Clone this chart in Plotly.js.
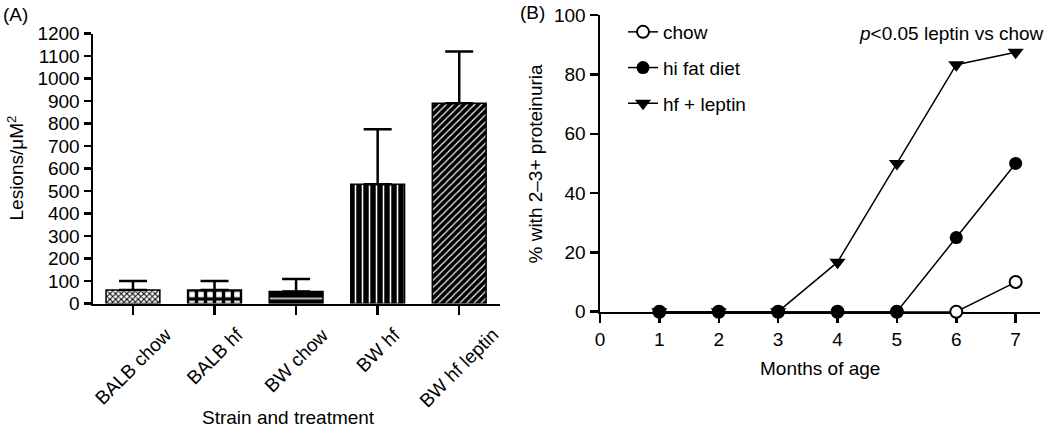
<!DOCTYPE html>
<html>
<head>
<meta charset="utf-8">
<script src="https://cdn.plot.ly/plotly-3.0.1.min.js"></script>
<style>html,body{margin:0;padding:0;background:#fff;}#chart{width:1050px;height:428px;}</style>
</head>
<body>
<div id="chart"></div>
<script>
// ---- Panel A data ----
const categories = ['BALB chow', 'BALB hf', 'BW chow', 'BW hf', 'BW hf leptin'];
const lesionMeans = [60, 60, 53, 530, 890];
const lesionErrUpper = [40, 40, 56, 245, 230];
const yTicksA = [0, 100, 200, 300, 400, 500, 600, 700, 800, 900, 1000, 1100, 1200];

// ---- Panel B data ----
const months = [1, 2, 3, 4, 5, 6, 7];
const chowPct = [0, 0, 0, 0, 0, 0, 10];
const hiFatPct = [0, 0, 0, 0, 0, 25, 50];
const leptinPct = [0, 0, 0, 16.7, 50, 83.3, 87.5];
const xTicksB = [0, 1, 2, 3, 4, 5, 6, 7];
const yTicksB = [0, 20, 40, 60, 80, 100];

const W = 1050, H = 428;
const F = 'Liberation Sans, Arial, Helvetica, sans-serif';
const FS = 19;
const px = v => v / W;
const py = v => 1 - v / H;

// bar fill styles (one per bar)
const patShape = ['x', '+', '-', '|', '/'];
const patFg = ['black', 'black', 'white', 'white', 'white'];
const patBg = ['white', 'white', 'black', 'black', 'black'];
const patSize = [4, 9, 10, 7, 5];
const patSolid = [0.45, 0.62, 0.14, 0.22, 0.22];

const barTraces = categories.map((c, i) => ({
  type: 'bar', x: [c], y: [lesionMeans[i]], xaxis: 'x', yaxis: 'y',
  width: 0.66, showlegend: false, hoverinfo: 'skip',
  marker: {
    color: patBg[i],
    line: {color: 'black', width: 1.5},
    pattern: {shape: patShape[i], fgcolor: patFg[i], bgcolor: patBg[i], size: patSize[i],
      solidity: patSolid[i], fillmode: 'overlay', fgopacity: 1}
  },
  error_y: {type: 'data', symmetric: false, array: [lesionErrUpper[i]], arrayminus: [0],
    color: 'black', thickness: 2.5, width: 14}
}));

const chow = {
  type: 'scatter', mode: 'lines+markers', name: 'chow', x: months, y: chowPct,
  xaxis: 'x2', yaxis: 'y2', legendrank: 1, legendgroup: 'a', cliponaxis: false,
  line: {color: 'black', width: 1.5},
  marker: {symbol: 'circle', size: 12, color: 'white', line: {color: 'black', width: 2}}
};
const leptin = {
  type: 'scatter', mode: 'lines+markers', name: 'hf + leptin', x: months, y: leptinPct,
  xaxis: 'x2', yaxis: 'y2', legendrank: 3, legendgroup: 'c', cliponaxis: false,
  line: {color: 'black', width: 1.5},
  marker: {symbol: 'triangle-down', size: 14, color: 'black', line: {width: 0}}
};
const hiFat = {
  type: 'scatter', mode: 'lines+markers', name: 'hi fat diet', x: months, y: hiFatPct,
  xaxis: 'x2', yaxis: 'y2', legendrank: 2, legendgroup: 'b', cliponaxis: false,
  line: {color: 'black', width: 1.5},
  marker: {symbol: 'circle', size: 13, color: 'black', line: {width: 0}}
};

const axBase = {
  showline: true, linecolor: 'black', linewidth: 2.5, showgrid: false, zeroline: false,
  ticks: 'outside', tickcolor: 'black', tickwidth: 2.5, automargin: false,
  tickfont: {family: F, size: FS, color: 'black'}
};

const annotations = [];
categories.forEach((c) => {
  annotations.push({
    text: c, x: c, y: 0, xref: 'x', yref: 'y', showarrow: false, textangle: -45,
    xanchor: 'center', yanchor: 'top', yshift: -18, font: {family: F, size: FS, color: 'black'}
  });
});
annotations.push(
  {text: '(A)', x: px(1), y: py(14.5), xref: 'paper', yref: 'paper', xanchor: 'left', yanchor: 'middle', showarrow: false},
  {text: '(B)', x: px(518), y: py(12.5), xref: 'paper', yref: 'paper', xanchor: 'left', yanchor: 'middle', showarrow: false},
  {text: 'Lesions/μM<sup>2</sup>', x: px(15), y: py(168.5), xref: 'paper', yref: 'paper', textangle: -90, xanchor: 'center', yanchor: 'middle', showarrow: false},
  {text: 'Strain and treatment', x: px(288), y: py(417), xref: 'paper', yref: 'paper', xanchor: 'center', yanchor: 'middle', showarrow: false},
  {text: '% with 2–3+ proteinuria', x: px(535), y: py(163.5), xref: 'paper', yref: 'paper', textangle: -90, xanchor: 'center', yanchor: 'middle', showarrow: false},
  {text: 'Months of age', x: px(820), y: py(368), xref: 'paper', yref: 'paper', xanchor: 'center', yanchor: 'middle', showarrow: false},
  {text: '<i>p</i>&lt;0.05 leptin vs chow', x: px(1046), y: py(33), xref: 'paper', yref: 'paper', xanchor: 'right', yanchor: 'middle', showarrow: false}
);

const layout = {
  width: W, height: H, margin: {l: 0, r: 0, t: 0, b: 0},
  paper_bgcolor: 'white', plot_bgcolor: 'rgba(0,0,0,0)',
  font: {family: F, size: FS, color: 'black'},
  showlegend: true, barmode: 'overlay',
  xaxis: Object.assign({}, axBase, {
    domain: [px(93), px(500)], type: 'category', categoryorder: 'array', categoryarray: categories,
    range: [-0.49, 4.5], anchor: 'y', ticklen: 9, showticklabels: false
  }),
  yaxis: Object.assign({}, axBase, {
    domain: [py(303.5), py(33.5)], range: [0, 1200], tickmode: 'array', tickvals: yTicksA, anchor: 'x',
    ticklen: 7
  }),
  xaxis2: Object.assign({}, axBase, {
    domain: [px(600), px(1040)], range: [0, 7.41], tickmode: 'array', tickvals: xTicksB, anchor: 'y2',
    ticklen: 9, layer: 'below traces'
  }),
  yaxis2: Object.assign({}, axBase, {
    domain: [py(311.7), py(15.2)], range: [0, 100], tickmode: 'array', tickvals: yTicksB, anchor: 'x2',
    ticklen: 8, layer: 'below traces'
  }),
  legend: {
    x: px(623), y: py(13), xanchor: 'left', yanchor: 'top', bgcolor: 'rgba(0,0,0,0)',
    font: {family: F, size: FS, color: 'black'}, tracegroupgap: 8, borderwidth: 0
  },
  annotations: annotations
};

Plotly.newPlot('chart', barTraces.concat([chow, leptin, hiFat]), layout, {staticPlot: true, displayModeBar: false});
</script>
</body>
</html>
